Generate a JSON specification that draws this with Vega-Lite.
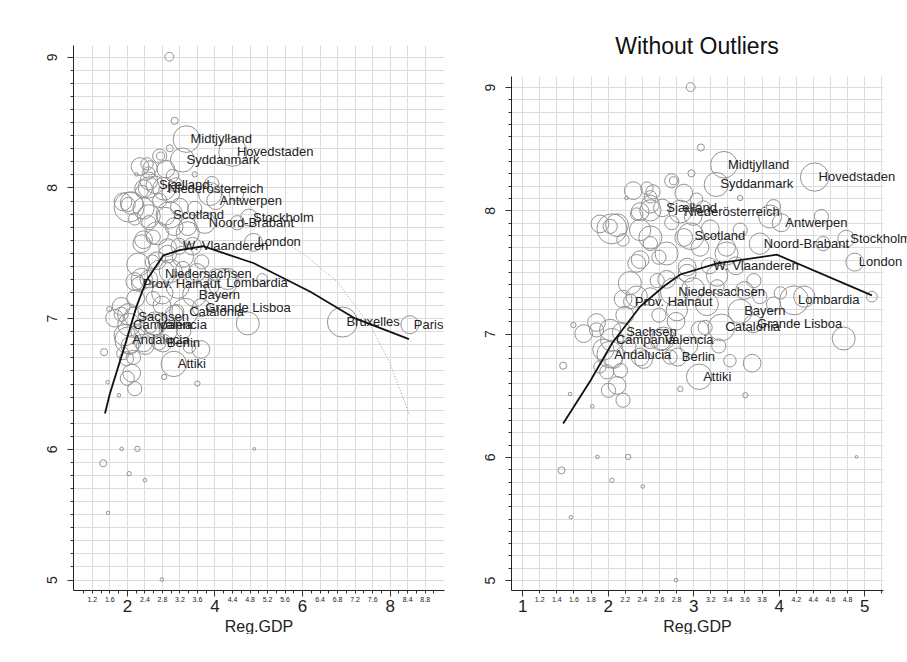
{
  "$schema": "https://vega.github.io/schema/vega-lite/v6.json",
  "background": "white",
  "autosize": {"type": "pad"},
  "padding": {"left": 45, "top": 36, "right": 0, "bottom": 0},
  "spacing": 67,
  "bounds": "flush",
  "config": {
    "font": "Liberation Sans",
    "view": {"stroke": null},
    "axis": {
      "domainColor": "#222",
      "tickColor": "#333",
      "labelColor": "#222",
      "titleColor": "#222",
      "gridColor": "#dcdcdc",
      "gridWidth": 1,
      "labelFlush": false,
      "labelOverlap": false,
      "labelBound": false,
      "format": "~g"
    }
  },
  "datasets": {
    "pts": [
      {"name": "Midtjylland", "x": 3.36, "y": 8.37, "w": 5.5},
      {"name": "Hovedstaden", "x": 4.42, "y": 8.27, "w": 6.2},
      {"name": "Syddanmark", "x": 3.27, "y": 8.21, "w": 4.5},
      {"name": "Sjælland", "x": 2.64, "y": 8.02, "w": 2.4},
      {"name": "Niederösterreich", "x": 2.85, "y": 7.99, "w": 4},
      {"name": "Antwerpen", "x": 4.03, "y": 7.9, "w": 2.5},
      {"name": "Scotland", "x": 2.97, "y": 7.79, "w": 5.5},
      {"name": "Noord-Brabant", "x": 3.78, "y": 7.73, "w": 3.5},
      {"name": "Stockholm", "x": 4.79, "y": 7.77, "w": 2.2},
      {"name": "London", "x": 4.89, "y": 7.58, "w": 2.5},
      {"name": "W. Vlaanderen", "x": 3.19, "y": 7.55, "w": 2},
      {"name": "Niedersachsen", "x": 2.78, "y": 7.34, "w": 6},
      {"name": "Prov. Hainaut", "x": 2.27, "y": 7.26, "w": 1.6},
      {"name": "Lombardia", "x": 4.18, "y": 7.27, "w": 6.5},
      {"name": "Bayern", "x": 3.55, "y": 7.18, "w": 4.5},
      {"name": "Catalonia", "x": 3.33, "y": 7.05, "w": 5.5},
      {"name": "Grande Lisboa", "x": 3.7, "y": 7.08, "w": 2.5},
      {"name": "Sachsen", "x": 2.17, "y": 7.01, "w": 3},
      {"name": "Campania", "x": 2.05, "y": 6.95, "w": 4},
      {"name": "Valencia", "x": 2.62, "y": 6.95, "w": 3.5},
      {"name": "Andalucia", "x": 2.03, "y": 6.83, "w": 5.5},
      {"name": "Berlin", "x": 2.82, "y": 6.81, "w": 2.5},
      {"name": "Attiki", "x": 3.07, "y": 6.65, "w": 5},
      {"name": "Bruxelles", "x": 6.92, "y": 6.97, "w": 7},
      {"name": "Paris", "x": 8.46, "y": 6.95, "w": 2.5},
      {"name": "", "x": 3.09, "y": 8.51, "w": 0.39},
      {"name": "", "x": 2.98, "y": 8.3, "w": 0.39},
      {"name": "", "x": 2.77, "y": 8.24, "w": 0.5},
      {"name": "", "x": 2.46, "y": 8.18, "w": 1.2},
      {"name": "", "x": 2.22, "y": 8.1, "w": 0.1},
      {"name": "", "x": 2.89, "y": 8.14, "w": 2.44},
      {"name": "", "x": 3.55, "y": 8.1, "w": 0.22},
      {"name": "", "x": 2.5, "y": 8.0, "w": 3.5},
      {"name": "", "x": 2.05, "y": 7.85, "w": 7},
      {"name": "", "x": 2.38, "y": 7.84, "w": 3.5},
      {"name": "", "x": 2.03, "y": 7.87, "w": 1.56},
      {"name": "", "x": 4.5, "y": 7.95, "w": 1.56},
      {"name": "", "x": 2.69, "y": 7.65, "w": 4.1},
      {"name": "", "x": 2.38, "y": 7.6, "w": 2.44},
      {"name": "", "x": 2.5, "y": 7.73, "w": 1.56},
      {"name": "", "x": 2.18, "y": 7.76, "w": 1.2},
      {"name": "", "x": 3.39, "y": 7.7, "w": 2.44},
      {"name": "", "x": 3.55, "y": 7.84, "w": 1.56},
      {"name": "", "x": 4.52, "y": 7.73, "w": 1.56},
      {"name": "", "x": 2.18, "y": 7.28, "w": 2.44},
      {"name": "", "x": 4.02, "y": 7.33, "w": 1.2},
      {"name": "", "x": 5.09, "y": 7.3, "w": 0.88},
      {"name": "", "x": 4.76, "y": 6.96, "w": 4.1},
      {"name": "", "x": 3.69, "y": 6.76, "w": 2.44},
      {"name": "", "x": 3.43, "y": 6.78, "w": 1.2},
      {"name": "", "x": 1.48, "y": 6.74, "w": 0.39},
      {"name": "", "x": 1.6, "y": 7.07, "w": 0.22},
      {"name": "", "x": 1.56, "y": 6.51, "w": 0.1},
      {"name": "", "x": 1.82, "y": 6.41, "w": 0.1},
      {"name": "", "x": 2.18, "y": 6.46, "w": 1.56},
      {"name": "", "x": 2.01, "y": 6.54, "w": 1.56},
      {"name": "", "x": 2.85, "y": 6.55, "w": 0.22},
      {"name": "", "x": 3.61, "y": 6.5, "w": 0.22},
      {"name": "", "x": 1.72, "y": 7.0, "w": 2.44},
      {"name": "", "x": 1.87, "y": 7.03, "w": 1.56},
      {"name": "", "x": 1.95, "y": 6.87, "w": 3.5},
      {"name": "", "x": 2.15, "y": 6.7, "w": 1.56},
      {"name": "", "x": 1.91, "y": 6.73, "w": 1.2},
      {"name": "", "x": 2.38, "y": 6.81, "w": 2.44},
      {"name": "", "x": 2.5, "y": 6.95, "w": 2.44},
      {"name": "", "x": 2.73, "y": 6.81, "w": 1.56},
      {"name": "", "x": 3.08, "y": 7.03, "w": 2.44},
      {"name": "", "x": 3.16, "y": 7.24, "w": 4.1},
      {"name": "", "x": 2.81, "y": 7.19, "w": 3.5},
      {"name": "", "x": 2.5, "y": 7.3, "w": 2.44},
      {"name": "", "x": 2.26, "y": 7.41, "w": 4.1},
      {"name": "", "x": 2.58, "y": 7.43, "w": 1.56},
      {"name": "", "x": 2.93, "y": 7.49, "w": 2.44},
      {"name": "", "x": 3.71, "y": 7.43, "w": 1.56},
      {"name": "", "x": 3.94, "y": 7.24, "w": 1.56},
      {"name": "", "x": 3.28, "y": 7.38, "w": 1.56},
      {"name": "", "x": 3.08, "y": 7.7, "w": 2.44},
      {"name": "", "x": 1.91, "y": 7.89, "w": 2.44},
      {"name": "", "x": 2.34, "y": 7.97, "w": 1.2},
      {"name": "", "x": 2.5, "y": 8.11, "w": 1.2},
      {"name": "", "x": 3.94, "y": 8.03, "w": 1.56},
      {"name": "", "x": 2.5, "y": 8.05, "w": 2.44},
      {"name": "", "x": 2.53, "y": 8.15, "w": 1.56},
      {"name": "", "x": 2.75, "y": 8.24, "w": 1.56},
      {"name": "", "x": 3.9, "y": 7.95, "w": 4.1},
      {"name": "", "x": 2.11, "y": 6.58, "w": 2.44},
      {"name": "", "x": 1.99, "y": 6.69, "w": 1.56},
      {"name": "", "x": 1.87, "y": 7.09, "w": 2.44},
      {"name": "", "x": 2.03, "y": 7.03, "w": 3.5},
      {"name": "", "x": 2.07, "y": 6.79, "w": 2.44},
      {"name": "", "x": 2.42, "y": 6.79, "w": 2.44},
      {"name": "", "x": 2.65, "y": 6.96, "w": 4.1},
      {"name": "", "x": 3.14, "y": 7.05, "w": 1.56},
      {"name": "", "x": 3.78, "y": 7.3, "w": 1.56},
      {"name": "", "x": 3.28, "y": 7.47, "w": 3.5},
      {"name": "", "x": 3.0, "y": 7.36, "w": 4.1},
      {"name": "", "x": 2.69, "y": 7.44, "w": 2.44},
      {"name": "", "x": 2.34, "y": 7.3, "w": 3.5},
      {"name": "", "x": 2.34, "y": 7.57, "w": 2.44},
      {"name": "", "x": 2.93, "y": 7.54, "w": 2.44},
      {"name": "", "x": 3.39, "y": 7.65, "w": 4.1},
      {"name": "", "x": 2.89, "y": 7.78, "w": 2.44},
      {"name": "", "x": 3.2, "y": 7.85, "w": 2.44},
      {"name": "", "x": 3.12, "y": 8.02, "w": 1.56},
      {"name": "", "x": 3.04, "y": 8.09, "w": 1.2},
      {"name": "", "x": 2.5, "y": 7.78, "w": 4.1},
      {"name": "", "x": 2.11, "y": 7.88, "w": 4},
      {"name": "", "x": 2.38, "y": 7.99, "w": 2.44},
      {"name": "", "x": 2.3, "y": 8.16, "w": 2.44},
      {"name": "", "x": 3.5, "y": 7.55, "w": 2.44},
      {"name": "", "x": 3.6, "y": 7.35, "w": 2.44},
      {"name": "", "x": 2.8, "y": 7.1, "w": 2.44},
      {"name": "", "x": 2.2, "y": 7.15, "w": 2.44},
      {"name": "", "x": 2.6, "y": 7.15, "w": 1.56},
      {"name": "", "x": 2.95, "y": 6.9, "w": 2.44},
      {"name": "", "x": 2.25, "y": 6.9, "w": 1.56},
      {"name": "", "x": 3.3, "y": 6.9, "w": 1.56},
      {"name": "", "x": 2.6, "y": 7.62, "w": 1.56},
      {"name": "", "x": 3.0, "y": 7.95, "w": 2.44},
      {"name": "", "x": 2.75, "y": 7.9, "w": 1.56},
      {"name": "", "x": 4.3, "y": 7.3, "w": 3.5},
      {"name": "", "x": 2.97, "y": 9.0, "w": 0.61},
      {"name": "", "x": 1.46, "y": 5.89, "w": 0.39},
      {"name": "", "x": 1.88, "y": 6.0, "w": 0.1},
      {"name": "", "x": 2.24, "y": 6.0, "w": 0.22},
      {"name": "", "x": 2.05, "y": 5.81, "w": 0.15},
      {"name": "", "x": 2.41, "y": 5.76, "w": 0.1},
      {"name": "", "x": 1.57, "y": 5.51, "w": 0.1},
      {"name": "", "x": 2.8, "y": 5.0, "w": 0.1},
      {"name": "", "x": 4.91, "y": 6.0, "w": 0.06}
    ],
    "fitL": [
      {"x": 1.5, "y": 6.27}, {"x": 1.61, "y": 6.42}, {"x": 1.99, "y": 6.83},
      {"x": 2.22, "y": 7.09}, {"x": 2.45, "y": 7.29}, {"x": 2.83, "y": 7.48},
      {"x": 3.2, "y": 7.52}, {"x": 3.74, "y": 7.55}, {"x": 4.9, "y": 7.42},
      {"x": 6.2, "y": 7.2}, {"x": 7.2, "y": 7.0}, {"x": 8.44, "y": 6.84}
    ],
    "qfitL": [
      {"x": 5.6, "y": 7.58}, {"x": 6.0, "y": 7.5}, {"x": 6.8, "y": 7.28},
      {"x": 7.6, "y": 6.92}, {"x": 8.0, "y": 6.66}, {"x": 8.44, "y": 6.27}
    ],
    "fitR": [
      {"x": 1.48, "y": 6.27}, {"x": 1.8, "y": 6.62}, {"x": 2.05, "y": 6.92},
      {"x": 2.38, "y": 7.22}, {"x": 2.65, "y": 7.38}, {"x": 2.85, "y": 7.48},
      {"x": 3.28, "y": 7.57}, {"x": 3.98, "y": 7.64}, {"x": 5.09, "y": 7.31}
    ]
  },
  "hconcat": [
    {
      "width": 371,
      "height": 545,
      "encoding": {
        "x": {
          "field": "x", "type": "quantitative",
          "scale": {"domain": [0.77, 9.24], "nice": false, "zero": false},
          "axis": {
            "title": "Reg.GDP", "titleFontSize": 16, "titleFontWeight": "normal", "titlePadding": 4,
            "values": [1, 1.2, 1.4, 1.6, 1.8, 2, 2.2, 2.4, 2.6, 2.8, 3, 3.2, 3.4, 3.6, 3.8, 4, 4.2, 4.4, 4.6, 4.8, 5, 5.2, 5.4, 5.6, 5.8, 6, 6.2, 6.4, 6.6, 6.8, 7, 7.2, 7.4, 7.6, 7.8, 8, 8.2, 8.4, 8.6, 8.8, 9],
            "labelExpr": "round(datum.value*10) % 4 === 0 ? datum.label : ''",
            "labelFontSize": {"condition": {"test": "round(datum.value*10) % 20 === 0", "value": 17}, "value": 7},
            "tickSize": {"condition": {"test": "round(datum.value*10) % 20 === 0", "value": 6}, "value": 3},
            "gridOpacity": {"condition": {"test": "round(datum.value*10) % 4 === 0", "value": 1}, "value": 0},
            "labelPadding": 2
          }
        },
        "y": {
          "field": "y", "type": "quantitative",
          "scale": {"domain": [4.92, 9.09], "nice": false, "zero": false},
          "axis": {
            "title": null,
            "values": [5, 5.1, 5.2, 5.3, 5.4, 5.5, 5.6, 5.7, 5.8, 5.9, 6, 6.1, 6.2, 6.3, 6.4, 6.5, 6.6, 6.7, 6.8, 6.9, 7, 7.1, 7.2, 7.3, 7.4, 7.5, 7.6, 7.7, 7.8, 7.9, 8, 8.1, 8.2, 8.3, 8.4, 8.5, 8.6, 8.7, 8.8, 8.9, 9],
            "labelExpr": "round(datum.value*10) % 10 === 0 ? datum.label : ''",
            "labelAngle": 270,
            "labelFontSize": 14,
            "labelPadding": 8,
            "tickSize": {"condition": {"test": "round(datum.value*10) % 10 === 0", "value": 6}, "value": 3}
          }
        }
      },
      "layer": [
        {
          "data": {"name": "pts"},
          "mark": {"type": "point", "shape": "circle", "filled": false, "stroke": "#939393", "strokeWidth": 1, "opacity": 1},
          "encoding": {
            "size": {"field": "w", "type": "quantitative", "scale": {"domain": [0, 10], "range": [0, 1290], "zero": true}, "legend": null}
          }
        },
        {
          "data": {"name": "pts"},
          "transform": [{"filter": "datum.name != ''"}],
          "mark": {"type": "text", "align": "left", "baseline": "middle", "dx": 4, "fontSize": 13, "color": "#222"},
          "encoding": {"text": {"field": "name"}}
        },
        {
          "data": {"name": "qfitL"},
          "mark": {"type": "line", "color": "#999", "strokeWidth": 1, "strokeDash": [1, 2]},
          "encoding": {}
        },
        {
          "data": {"name": "fitL"},
          "mark": {"type": "line", "color": "#111", "strokeWidth": 1.8},
          "encoding": {}
        }
      ]
    },
    {
      "width": 372,
      "height": 545,
      "title": {"text": "Without Outliers", "fontSize": 23, "fontWeight": "normal", "offset": -14, "anchor": "middle", "color": "#111"},
      "resolve": {"axis": {"x": "independent"}},
      "encoding": {
        "y": {
          "field": "y", "type": "quantitative",
          "scale": {"domain": [4.92, 9.09], "nice": false, "zero": false, "range": [545, 31]},
          "axis": {
            "title": null,
            "values": [5, 5.1, 5.2, 5.3, 5.4, 5.5, 5.6, 5.7, 5.8, 5.9, 6, 6.1, 6.2, 6.3, 6.4, 6.5, 6.6, 6.7, 6.8, 6.9, 7, 7.1, 7.2, 7.3, 7.4, 7.5, 7.6, 7.7, 7.8, 7.9, 8, 8.1, 8.2, 8.3, 8.4, 8.5, 8.6, 8.7, 8.8, 8.9, 9],
            "labelExpr": "round(datum.value*10) % 10 === 0 ? datum.label : ''",
            "labelAngle": 270,
            "labelFontSize": 14,
            "labelPadding": 8,
            "tickSize": {"condition": {"test": "round(datum.value*10) % 10 === 0", "value": 6}, "value": 3}
          }
        }
      },
      "layer": [
        {
          "data": {"name": "pts"},
          "transform": [{"filter": "datum.x <= 5.25"}],
          "mark": {"type": "point", "shape": "circle", "filled": false, "stroke": "#939393", "strokeWidth": 1, "opacity": 1},
          "encoding": {
            "x": {
              "field": "x", "type": "quantitative",
              "scale": {"domain": [0.87, 5.22], "nice": false, "zero": false},
              "axis": {
                "orient": "bottom",
                "grid": false,
                "title": "Reg.GDP", "titleFontSize": 16, "titleFontWeight": "normal", "titlePadding": 4,
                "values": [1, 1.2, 1.4, 1.6, 1.8, 2, 2.2, 2.4, 2.6, 2.8, 3, 3.2, 3.4, 3.6, 3.8, 4, 4.2, 4.4, 4.6, 4.8, 5, 5.2],
                "labelExpr": "datum.value > 5.1 ? '' : datum.label",
                "labelFontSize": {"condition": {"test": "round(datum.value*10) % 10 === 0", "value": 17}, "value": 7},
                "tickSize": {"condition": {"test": "round(datum.value*10) % 10 === 0", "value": 6}, "value": 3},
                "labelPadding": 2
              }
            },
            "size": {"field": "w", "type": "quantitative", "scale": {"domain": [0, 10], "range": [0, 1290], "zero": true}, "legend": null}
          }
        },
        {
          "data": {"name": "pts"},
          "transform": [{"filter": "datum.x <= 5.25 && datum.name != ''"}],
          "mark": {"type": "text", "align": "left", "baseline": "middle", "dx": 4, "fontSize": 13, "color": "#222"},
          "encoding": {
            "x": {
              "field": "x", "type": "quantitative",
              "scale": {"domain": [0.87, 5.22], "nice": false, "zero": false},
              "axis": {
                "orient": "top",
                "grid": true,
                "labels": false,
                "ticks": false,
                "domain": false,
                "title": null,
                "values": [1, 1.2, 1.4, 1.6, 1.8, 2, 2.2, 2.4, 2.6, 2.8, 3, 3.2, 3.4, 3.6, 3.8, 4, 4.2, 4.4, 4.6, 4.8, 5, 5.2]
              }
            },
            "text": {"field": "name"}
          }
        },
        {
          "data": {"name": "fitR"},
          "mark": {"type": "line", "color": "#111", "strokeWidth": 1.8},
          "encoding": {
            "x": {"field": "x", "type": "quantitative", "scale": {"domain": [0.87, 5.22], "nice": false, "zero": false}, "axis": null}
          }
        }
      ]
    }
  ]
}
